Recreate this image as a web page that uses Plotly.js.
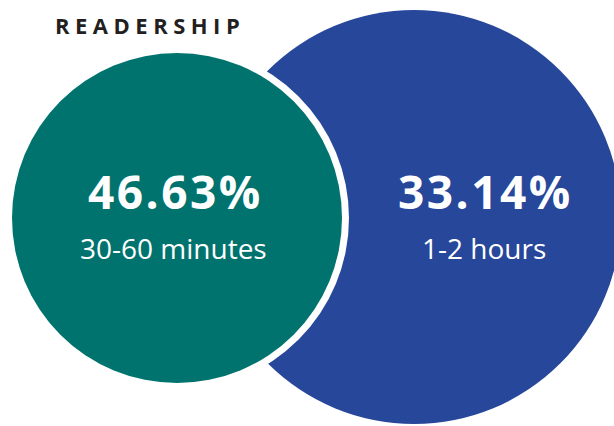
<!DOCTYPE html>
<html>
<head>
<meta charset="utf-8">
<script src="https://cdn.plot.ly/plotly-3.0.1.min.js"></script>
<style>html,body{margin:0;padding:0;background:#fff;}</style>
</head>
<body>
<div id="chart" style="width:614px;height:426px;"></div>
<script>
// Data
const chartTitle = 'READERSHIP';
const percentages = [46.63, 33.14];
const durations = ['30-60 minutes', '1-2 hours'];

// Styles / layout
const colors = ['#00736e', '#26479a'];
const circles = [
  {cx: 177, cy: 218, r: 165},   // teal
  {cx: 414, cy: 217, r: 207}    // blue
];
const gap = 7;

const shapes = [];
shapes.push({type: 'circle', xref: 'x', yref: 'y',
  x0: circles[1].cx - circles[1].r, x1: circles[1].cx + circles[1].r,
  y0: circles[1].cy - circles[1].r, y1: circles[1].cy + circles[1].r,
  fillcolor: colors[1], line: {width: 0}, layer: 'below'});
shapes.push({type: 'circle', xref: 'x', yref: 'y',
  x0: circles[0].cx - circles[0].r - gap, x1: circles[0].cx + circles[0].r + gap,
  y0: circles[0].cy - circles[0].r - gap, y1: circles[0].cy + circles[0].r + gap,
  fillcolor: '#ffffff', line: {width: 0}, layer: 'below'});
shapes.push({type: 'circle', xref: 'x', yref: 'y',
  x0: circles[0].cx - circles[0].r, x1: circles[0].cx + circles[0].r,
  y0: circles[0].cy - circles[0].r, y1: circles[0].cy + circles[0].r,
  fillcolor: colors[0], line: {width: 0}, layer: 'below'});

const textX = [175, 485];
const annotations = [];
percentages.forEach((p, i) => {
  annotations.push({x: textX[i], y: 191, xref: 'x', yref: 'y',
    text: '<b><span style="letter-spacing:2.5px">' + p.toFixed(2) + '%</span></b>', showarrow: false,
    xanchor: 'center', yanchor: 'middle',
    font: {family: 'Open Sans, sans-serif', size: 46, color: '#ffffff'}});
  annotations.push({x: textX[i] - 2 + (i === 1 ? 1 : 0), y: 248, xref: 'x', yref: 'y',
    text: durations[i], showarrow: false,
    xanchor: 'center', yanchor: 'middle',
    font: {family: 'Open Sans, sans-serif', size: 28, color: '#ffffff'}});
});
annotations.push({x: 150, y: 25, xref: 'x', yref: 'y',
  text: '<b><span style="letter-spacing:5.5px">' + chartTitle + '</span></b>', showarrow: false,
  xanchor: 'center', yanchor: 'middle',
  font: {family: 'Open Sans, sans-serif', size: 22, color: '#231f20'}});

const layout = {
  width: 614, height: 426,
  margin: {l: 0, r: 0, t: 0, b: 0},
  paper_bgcolor: '#ffffff', plot_bgcolor: '#ffffff',
  showlegend: false,
  xaxis: {range: [0, 614], visible: false, fixedrange: true},
  yaxis: {range: [426, 0], visible: false, fixedrange: true},
  shapes: shapes,
  annotations: annotations
};

Plotly.newPlot('chart', [{x: [], y: [], type: 'scatter', mode: 'markers', hoverinfo: 'skip'}], layout, {displayModeBar: false, staticPlot: true});
</script>
</body>
</html>
